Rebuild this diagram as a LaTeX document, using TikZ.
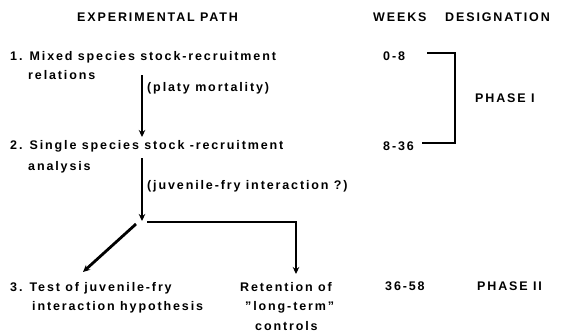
\documentclass[tikz,border=0pt]{standalone}
\usepackage{fontspec}
\setmainfont{Liberation Sans}[LetterSpace=15]
\usetikzlibrary{arrows.meta}
\tikzset{
  txt/.style={anchor=base west, inner sep=0pt, font=\fontsize{12.5}{14}\selectfont\bfseries},
  flow/.style={line width=2.8pt, -{Stealth[length=7pt,width=6.5pt]}},
  brk/.style={line width=1.4pt}
}
\begin{document}
\begin{tikzpicture}[x=1pt,y=-1pt]
\useasboundingbox (0,0) rectangle (565,335);
% headers
\node[txt] (hpath) at (77,21) {EXPERIMENTAL PATH};
\node[txt] (hweeks) at (373,21) {WEEKS};
\node[txt] (hdes) at (445,21) {DESIGNATION};
% step texts
\node[txt] (l1) at (10,60) {1. Mixed species stock-recruitment};
\node[txt] (l1b) at (28,79) {relations};
\node[txt] (lab1) at (147,91) {(platy mortality)};
\node[txt] (l2) at (10,149) {2. Single species stock -recruitment};
\node[txt] (l2b) at (28,170) {analysis};
\node[txt] (lab2) at (147,189) {(juvenile-fry interaction ?)};
\node[txt] (l3) at (10,291) {3. Test of juvenile-fry};
\node[txt] (l3b) at (32,310) {interaction hypothesis};
\node[txt] (r1) at (240,291) {Retention of};
\node[txt] (r2) at (245,310) {"long-term"};
\node[txt] (r3) at (255,330) {controls};
% weeks / phases
\node[txt] (w1) at (383,60) {0-8};
\node[txt] (w2) at (383,150) {8-36};
\node[txt] (w3) at (385,290) {36-58};
\node[txt] (p1) at (475,102) {PHASE I};
\node[txt] (p2) at (477,290) {PHASE II};
% connector points
\coordinate (a1s) at (142,75);
\coordinate (a1e) at (142,137);
\coordinate (a2s) at (142,158);
\coordinate (br) at (142,221);
\coordinate (dgs) at (136,224);
\coordinate (dge) at (83,272);
\coordinate (hs) at (147,222);
\coordinate (hc) at (296,222);
\coordinate (he) at (296,274);
\coordinate (b1) at (427,53);
\coordinate (b2) at (455,53);
\coordinate (b3) at (455,143);
\coordinate (b4) at (422,143);
% arrows
\draw[flow] (a1s) -- (a1e);
\draw[flow] (a2s) -- (br);
\draw[flow] (dgs) -- (dge);
\draw[flow] (hs) -- (hc) -- (he);
\draw[brk] (b1) -- (b2) -- (b3) -- (b4);
\end{tikzpicture}
\end{document}
